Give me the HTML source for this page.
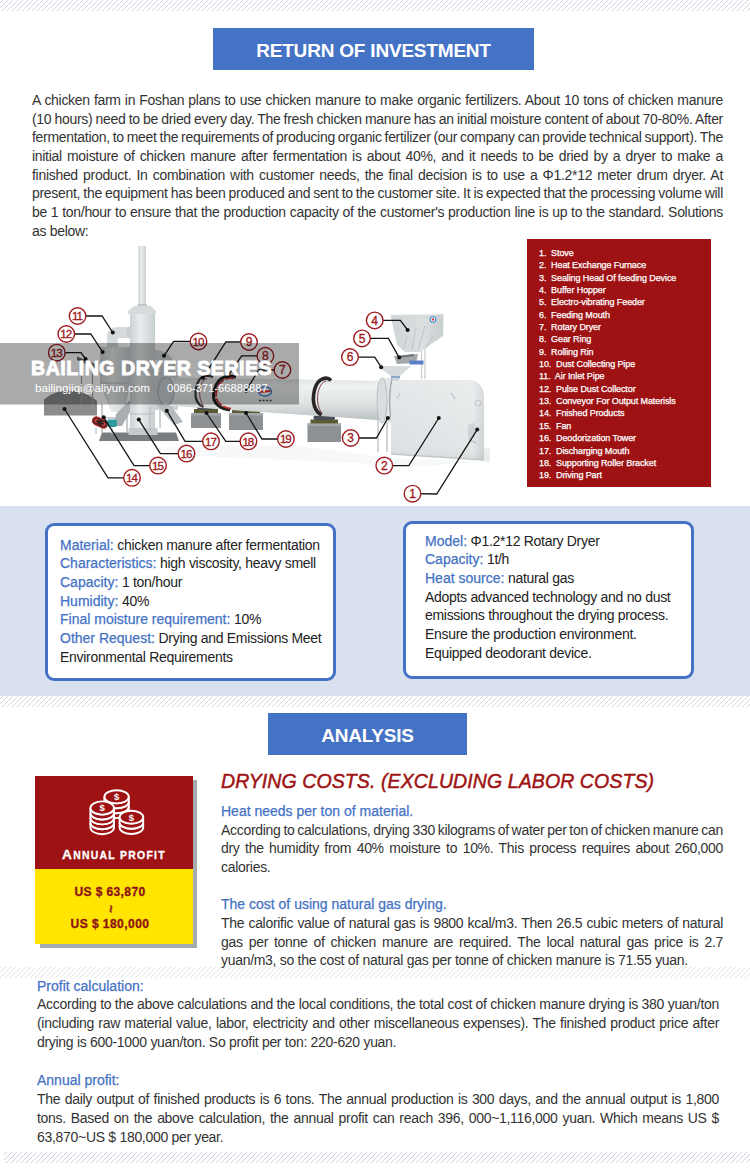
<!DOCTYPE html>
<html><head><meta charset="utf-8">
<style>
html,body{margin:0;padding:0;}
body{width:750px;height:1168px;overflow:hidden;position:relative;background:#fff;font-family:"Liberation Sans",sans-serif;color:#333;}
.abs{position:absolute;}
.hatch{position:absolute;left:0;width:750px;display:block;}
.title{position:absolute;background:#4472c4;color:#fff;font-weight:bold;font-size:19px;text-align:center;letter-spacing:-0.2px;}
.p{position:absolute;font-size:14px;line-height:18.67px;letter-spacing:-0.3px;}
.b{color:#4472c4;font-size:14px;line-height:10px;letter-spacing:0;-webkit-text-stroke:0.25px #4472c4;}
div.b{line-height:inherit;}
.box{position:absolute;background:#fff;border:3px solid #4472c4;border-radius:9px;box-sizing:border-box;font-size:14px;line-height:18.67px;letter-spacing:-0.3px;}
</style></head><body>
<svg class="hatch" style="top:0;height:11px" width="750" height="11"><defs><pattern id="h1" x="2" y="1" width="5" height="5" patternUnits="userSpaceOnUse"><path d="M-1 6 L6 -1" stroke="#d2d6e0" stroke-width="1"/></pattern></defs><rect width="750" height="11" fill="url(#h1)"/></svg>

<div class="title" style="left:213px;top:28px;width:321px;height:42px;line-height:45px;">RETURN OF INVESTMENT</div>

<div class="p" style="left:32px;top:91px;width:691px;">
<div style="white-space:nowrap;word-spacing:0.553px">A chicken farm in Foshan plans to use chicken manure to make organic fertilizers. About 10 tons of chicken manure</div>
<div style="white-space:nowrap;word-spacing:-0.387px">(10 hours) need to be dried every day. The fresh chicken manure has an initial moisture content of about 70-80%. After</div>
<div style="white-space:nowrap;word-spacing:-0.666px">fermentation, to meet the requirements of producing organic fertilizer (our company can provide technical support). The</div>
<div style="white-space:nowrap;word-spacing:1.575px">initial moisture of chicken manure after fermentation is about 40%, and it needs to be dried by a dryer to make a</div>
<div style="white-space:nowrap;word-spacing:1.606px">finished product. In combination with customer needs, the final decision is to use a Φ1.2*12 meter drum dryer. At</div>
<div style="white-space:nowrap;word-spacing:-0.476px">present, the equipment has been produced and sent to the customer site. It is expected that the processing volume will</div>
<div style="white-space:nowrap;word-spacing:0.299px">be 1 ton/hour to ensure that the production capacity of the customer's production line is up to the standard. Solutions</div>
<div>as below:</div>
</div>

<!-- DIAGRAM -->
<svg class="abs" style="left:0;top:240px" width="520" height="265" viewBox="0 240 520 265">
<defs>
<linearGradient id="drumG" x1="0" y1="0" x2="0" y2="1">
<stop offset="0" stop-color="#dce1e2"/><stop offset="0.2" stop-color="#eff2f3"/><stop offset="0.6" stop-color="#dfe3e4"/><stop offset="1" stop-color="#b9bfc1"/></linearGradient>
<linearGradient id="towerG" x1="0" y1="0" x2="1" y2="0">
<stop offset="0" stop-color="#ccd2d4"/><stop offset="0.4" stop-color="#e9eced"/><stop offset="1" stop-color="#c9cfd1"/></linearGradient>
<linearGradient id="houseG" x1="0" y1="0" x2="1" y2="0">
<stop offset="0" stop-color="#dde1e3"/><stop offset="0.88" stop-color="#e4e7e8"/><stop offset="1" stop-color="#cdd2d4"/></linearGradient>
<linearGradient id="houseV" x1="0" y1="0" x2="0" y2="1">
<stop offset="0" stop-color="#fff" stop-opacity="0.25"/><stop offset="0.8" stop-color="#fff" stop-opacity="0"/><stop offset="1" stop-color="#000" stop-opacity="0.06"/></linearGradient>
<linearGradient id="hopG" x1="0" y1="0" x2="1" y2="0">
<stop offset="0" stop-color="#cfd4d6"/><stop offset="0.6" stop-color="#dadfe0"/><stop offset="1" stop-color="#c8cdcf"/></linearGradient>
</defs>
<path d="M483 447 L490 449 L490 463 L483 461 Z" fill="#eceeee"/>
<path d="M95 441 Q150 452 200 445 L300 446 L390 458 L480 462 L420 466 L200 456 Z" fill="#f7f8f8"/>
<path d="M44 415.5 L44 399.5 C52 393 60 390.5 68 390.5 C78 390.5 89 394 97 401 L97 415.5 Z" fill="#8b8c8d"/>
<path d="M77 356.5 L97 365 L97 369 L77 360 Z" fill="#5f6264"/>
<path d="M81.5 360 L81.5 406 M92.5 365 L92.5 406" stroke="#9ea2a4" stroke-width="1.2"/>
<path d="M102 432.5 L176 432.5 L179 441 L99 441 Z" fill="#797d7f"/>
<path d="M100 347 L130 347 L130 383 L125 412 L111 412 L100 383 Z" fill="url(#towerG)"/>
<path d="M100 383 L130 383" stroke="#b8bec0" stroke-width="1"/>
<path d="M102 404 L102 433 M127 404 L127 433 M102 418 L127 418" stroke="#b9bfc1" stroke-width="1.6"/>
<path d="M130 400 L116 414 L114 426 L122 426 L130 412 Z" fill="#a9afb1"/>
<path d="M107 348 L107 337 Q107 327 117 327 L130 327 L130 338 L119 338 Q118 338 118 340 L118 348 Z" fill="#d5dadc"/>
<ellipse cx="129" cy="332.5" rx="2.5" ry="6" fill="#c9cfd1"/>
<rect x="138.5" y="246" width="7.5" height="60" fill="url(#towerG)"/>
<rect x="137.5" y="304" width="9.5" height="2" fill="#c0c6c8"/>
<path d="M134 306 L151 306 L156 311 L156 314 L128 314 L128 311 Z" fill="#d5dadb"/>
<rect x="130" y="314" width="25" height="120" fill="url(#towerG)"/>
<path d="M130 414 L155 414" stroke="#b6bcbe" stroke-width="1"/>
<path d="M128.5 428 L157.5 428 L157.5 435 L128.5 435 Z" fill="#c4cacc"/>
<path d="M155 350 Q170 351 175 364 L175 372 L160 372 Q159 361 155 359 Z" fill="#cfd5d7"/>
<path d="M154 372 L178 372 L178 410 L154 410 Z" fill="#cdd3d5"/>
<path d="M156 404 L170 404 L183 422 L174 425 Z" fill="#b7bdbf"/>
<path d="M160 410 L160 428 M150 406 L150 432" stroke="#b9bfc1" stroke-width="1.4"/>
<g transform="rotate(25 100 422.5)"><rect x="92" y="418.5" width="16" height="8" rx="4" fill="#4a2424" stroke="#c03030" stroke-width="1"/><circle cx="96" cy="422.5" r="2" fill="#e04040"/><circle cx="104" cy="422.5" r="2" fill="#e04040"/><rect x="96" y="421.5" width="8" height="2" fill="#2a2020"/></g>
<rect x="107" y="419.5" width="10" height="7.5" rx="2" fill="#2f9a9e"/>
<path d="M96 428 L96 434 M112 427 L112 434" stroke="#c3c8ca" stroke-width="1.4"/>
<rect x="191" y="413" width="30" height="15" fill="#8d9193"/>
<rect x="191" y="413" width="30" height="2.5" fill="#a3a7a9"/>
<rect x="194" y="409" width="24" height="4" fill="#5b5a35"/>
<rect x="197" y="405" width="18" height="4.5" rx="2" fill="#4a4d55"/>
<rect x="229" y="413" width="34" height="17" fill="#8d9193"/>
<rect x="229" y="413" width="34" height="2.5" fill="#a3a7a9"/>
<rect x="232" y="409" width="28" height="4" fill="#5b5a35"/>
<rect x="235" y="405" width="22" height="4.5" rx="2" fill="#4a4d55"/>
<rect x="307.5" y="423.5" width="33.5" height="18.5" fill="#8d9193"/>
<rect x="307.5" y="423.5" width="33.5" height="2.5" fill="#a3a7a9"/>
<rect x="310.5" y="419.5" width="27.5" height="4" fill="#5b5a35"/>
<rect x="313.5" y="415.5" width="21.5" height="4.5" rx="2" fill="#4a4d55"/>
<rect x="240" y="406" width="14" height="5" rx="2" fill="#3e9a52"/>
<path d="M378 400 L378 452 M387 400 L387 452" stroke="#c6cbcd" stroke-width="1.6"/>
<path d="M376 403 L392 403" stroke="#8f9597" stroke-width="1.3"/>
<path d="M166 377.5 L392 381 L392 421 L166 405.5 Z" fill="url(#drumG)"/>
<ellipse cx="166" cy="391.5" rx="8" ry="14" fill="#cdd3d5" stroke="#a9afb1" stroke-width="1.2"/>
<ellipse cx="265" cy="391.5" rx="6.5" ry="4.5" fill="#fff" stroke="#3a7fc8" stroke-width="1.4"/><path d="M259.5 392 L270.5 391" stroke="#d33" stroke-width="1.8"/>
<path d="M259 400.5 h2 m1.5 0 h2 m1.5 0 h2 m1.5 0 h2" stroke="#444" stroke-width="1.5"/>
<path d="M213 377 C205 374 197 376 195.5 392 C195 400 198 405 203.5 407" stroke="#3a3636" stroke-width="2.2" fill="none"/>
<path d="M207 378.5 C199 380 197 398 203.5 405.5" stroke="#8e2a2a" stroke-width="0.8" fill="none"/>
<path d="M236 377 C226 374 215 378 213.5 395 C213 403 220 409 230 410" stroke="#1f1f1f" stroke-width="3" fill="none"/>
<path d="M234 378.5 C226 377 217 381 216 395 C216 402 222 407.5 231 408.5" stroke="#c42a2a" stroke-width="1.7" fill="none" stroke-dasharray="9 1.5"/>
<path d="M331 380.5 C328 377 318 376 314.5 390 C311 404 316 412 321.5 415" stroke="#2b2626" stroke-width="3.6" fill="none"/>
<path d="M326 381 C320 382 316 394 318 404 C319 409 321 412 322 413" stroke="#7a2a30" stroke-width="0.9" fill="none"/>
<path d="M382 378 L393 378 L393 423 L382 423 Z" fill="#e2e5e6"/>
<ellipse cx="382" cy="400.5" rx="5" ry="22.5" fill="#d9dddf" stroke="#b9bec0" stroke-width="1"/>
<path d="M392 379 Q387 401 392 423" stroke="#a3a9ab" stroke-width="1.4" fill="none"/>
<path d="M391 390 Q391 380 400 380 L468 380 Q484 381 484 398 L484 460 L391 454 Z" fill="url(#houseG)"/>
<path d="M391 390 Q391 380 400 380 L468 380 Q484 381 484 398 L484 460 L391 454 Z" fill="url(#houseV)"/>
<path d="M391 454 L484 460" stroke="#c3c8ca" stroke-width="1.6"/>
<path d="M397 399 L400 393 M451 393 L455 399" stroke="#c5cacc" stroke-width="1.4"/>
<path d="M468 425 L475 423 L475 438 L468 440 Z" fill="#cdd2d4"/><path d="M470 440 L476 443" stroke="#c0c5c7" stroke-width="1.5"/>
<circle cx="478" cy="403" r="3" fill="none" stroke="#b8bdbf" stroke-width="0.8"/>
<path d="M421.5 338 L421.5 379 M425 338 L425 379" stroke="#c8cdcf" stroke-width="1.2"/>
<path d="M390.5 315 L443.5 314 L443 336 L420 352 L405 352 L397 345 Z" fill="url(#hopG)"/>
<path d="M390.5 315 L443.5 314" stroke="#eef0f1" stroke-width="1"/>
<path d="M407 336 L403 350 M416 327 L412 350 M425 326 L418 350 M433 336 L426 348" stroke="#bcc2c4" stroke-width="0.9"/>
<circle cx="433" cy="319.5" r="2.8" fill="#fff" stroke="#3a8fd0" stroke-width="1.1"/><circle cx="433" cy="319.5" r="1.2" fill="#d33"/>
<path d="M394 356 L418 354 L416 363 L397 364 Z" fill="#a3a9ab"/>
<path d="M398 357 L414 355" stroke="#6b7173" stroke-width="2"/>
<rect x="409.5" y="360.5" width="14" height="4" fill="#5b80c6"/>
<path d="M377 366 L411 366 L400 376 L391 376 Z" fill="#d7dbdd"/>
<rect x="391" y="376" width="9" height="2.5" fill="#8fa6cc"/>
<rect x="392" y="378.5" width="7" height="2.5" fill="#cfd4d6"/>
<path d="M412.5 493.7 L436.7 494.0 L477.2 429.6" stroke="#151515" stroke-width="1.3" fill="none"/>
<circle cx="477.2" cy="429.6" r="2" fill="#111"/>
<path d="M384.3 465.6 L408.8 465.6 L438.8 418.0" stroke="#151515" stroke-width="1.3" fill="none"/>
<circle cx="438.8" cy="418.0" r="2" fill="#111"/>
<path d="M350.7 438.0 L376.4 438.0 L387.9 418.0" stroke="#151515" stroke-width="1.3" fill="none"/>
<circle cx="387.9" cy="418.0" r="2" fill="#111"/>
<path d="M374.7 320.4 L400.4 320.4 L407.6 330.0" stroke="#151515" stroke-width="1.3" fill="none"/>
<circle cx="407.6" cy="330.0" r="2" fill="#111"/>
<path d="M362.0 338.4 L388.4 338.4 L399.2 357.6" stroke="#151515" stroke-width="1.3" fill="none"/>
<circle cx="399.2" cy="357.6" r="2" fill="#111"/>
<path d="M350.0 357.1 L374.7 357.1 L381.2 367.2" stroke="#151515" stroke-width="1.3" fill="none"/>
<circle cx="381.2" cy="367.2" r="2" fill="#111"/>
<path d="M282.4 370.0 L258.6 370.0 L246.2 390.7" stroke="#151515" stroke-width="1.3" fill="none"/>
<circle cx="246.2" cy="390.7" r="2" fill="#111"/>
<path d="M265.4 355.8 L241.6 355.8 L228.0 376.0" stroke="#151515" stroke-width="1.3" fill="none"/>
<circle cx="228.0" cy="376.0" r="2" fill="#111"/>
<path d="M249.0 342.0 L225.8 342.0 L203.0 377.8" stroke="#151515" stroke-width="1.3" fill="none"/>
<circle cx="203.0" cy="377.8" r="2" fill="#111"/>
<path d="M198.5 341.5 L173.6 341.5 L164.0 355.8" stroke="#151515" stroke-width="1.3" fill="none"/>
<circle cx="164.0" cy="355.8" r="2" fill="#111"/>
<path d="M77.6 316.0 L102.0 316.0 L112.8 332.5" stroke="#151515" stroke-width="1.3" fill="none"/>
<circle cx="112.8" cy="332.5" r="2" fill="#111"/>
<path d="M66.3 334.0 L90.8 334.0 L102.6 352.0" stroke="#151515" stroke-width="1.3" fill="none"/>
<circle cx="102.6" cy="352.0" r="2" fill="#111"/>
<path d="M56.8 352.7 L81.0 352.7 L85.6 359.0" stroke="#151515" stroke-width="1.3" fill="none"/>
<circle cx="85.6" cy="359.0" r="2" fill="#111"/>
<path d="M132.0 477.8 L108.0 477.8 L64.5 409.0" stroke="#151515" stroke-width="1.3" fill="none"/>
<circle cx="64.5" cy="409.0" r="2" fill="#111"/>
<path d="M158.0 465.6 L134.0 465.6 L103.7 417.3" stroke="#151515" stroke-width="1.3" fill="none"/>
<circle cx="103.7" cy="417.3" r="2" fill="#111"/>
<path d="M186.5 453.6 L160.4 453.6 L138.8 419.6" stroke="#151515" stroke-width="1.3" fill="none"/>
<circle cx="138.8" cy="419.6" r="2" fill="#111"/>
<path d="M211.0 441.3 L185.0 441.3 L166.8 410.7" stroke="#151515" stroke-width="1.3" fill="none"/>
<circle cx="166.8" cy="410.7" r="2" fill="#111"/>
<path d="M248.4 441.3 L225.8 441.3 L206.5 413.0" stroke="#151515" stroke-width="1.3" fill="none"/>
<circle cx="206.5" cy="413.0" r="2" fill="#111"/>
<path d="M285.9 439.0 L262.0 439.0 L246.0 413.0" stroke="#151515" stroke-width="1.3" fill="none"/>
<circle cx="246.0" cy="413.0" r="2" fill="#111"/>
<circle cx="412.5" cy="493.7" r="8.3" fill="#fff" stroke="#a01c20" stroke-width="1.4"/>
<text x="412.5" y="497.9" font-size="12" text-anchor="middle" fill="#a01c20" stroke="#a01c20" stroke-width="0.35" font-family="Liberation Sans" letter-spacing="0">1</text>
<circle cx="384.3" cy="465.6" r="8.3" fill="#fff" stroke="#a01c20" stroke-width="1.4"/>
<text x="384.3" y="469.8" font-size="12" text-anchor="middle" fill="#a01c20" stroke="#a01c20" stroke-width="0.35" font-family="Liberation Sans" letter-spacing="0">2</text>
<circle cx="350.7" cy="438.0" r="8.3" fill="#fff" stroke="#a01c20" stroke-width="1.4"/>
<text x="350.7" y="442.2" font-size="12" text-anchor="middle" fill="#a01c20" stroke="#a01c20" stroke-width="0.35" font-family="Liberation Sans" letter-spacing="0">3</text>
<circle cx="374.7" cy="320.4" r="8.3" fill="#fff" stroke="#a01c20" stroke-width="1.4"/>
<text x="374.7" y="324.6" font-size="12" text-anchor="middle" fill="#a01c20" stroke="#a01c20" stroke-width="0.35" font-family="Liberation Sans" letter-spacing="0">4</text>
<circle cx="362.0" cy="338.4" r="8.3" fill="#fff" stroke="#a01c20" stroke-width="1.4"/>
<text x="362.0" y="342.6" font-size="12" text-anchor="middle" fill="#a01c20" stroke="#a01c20" stroke-width="0.35" font-family="Liberation Sans" letter-spacing="0">5</text>
<circle cx="350.0" cy="357.1" r="8.3" fill="#fff" stroke="#a01c20" stroke-width="1.4"/>
<text x="350.0" y="361.3" font-size="12" text-anchor="middle" fill="#a01c20" stroke="#a01c20" stroke-width="0.35" font-family="Liberation Sans" letter-spacing="0">6</text>
<circle cx="282.4" cy="370.0" r="8.3" fill="#fff" stroke="#a01c20" stroke-width="1.4"/>
<text x="282.4" y="374.2" font-size="12" text-anchor="middle" fill="#a01c20" stroke="#a01c20" stroke-width="0.35" font-family="Liberation Sans" letter-spacing="0">7</text>
<circle cx="265.4" cy="355.8" r="8.3" fill="#fff" stroke="#a01c20" stroke-width="1.4"/>
<text x="265.4" y="360.0" font-size="12" text-anchor="middle" fill="#a01c20" stroke="#a01c20" stroke-width="0.35" font-family="Liberation Sans" letter-spacing="0">8</text>
<circle cx="249.0" cy="342.0" r="8.3" fill="#fff" stroke="#a01c20" stroke-width="1.4"/>
<text x="249.0" y="346.2" font-size="12" text-anchor="middle" fill="#a01c20" stroke="#a01c20" stroke-width="0.35" font-family="Liberation Sans" letter-spacing="0">9</text>
<circle cx="198.5" cy="341.5" r="8.3" fill="#fff" stroke="#a01c20" stroke-width="1.4"/>
<text x="197.9" y="345.7" font-size="11.6" text-anchor="middle" fill="#a01c20" stroke="#a01c20" stroke-width="0.35" font-family="Liberation Sans" letter-spacing="-1.1">10</text>
<circle cx="77.6" cy="316.0" r="8.3" fill="#fff" stroke="#a01c20" stroke-width="1.4"/>
<text x="77.0" y="320.2" font-size="11.6" text-anchor="middle" fill="#a01c20" stroke="#a01c20" stroke-width="0.35" font-family="Liberation Sans" letter-spacing="-1.1">11</text>
<circle cx="66.3" cy="334.0" r="8.3" fill="#fff" stroke="#a01c20" stroke-width="1.4"/>
<text x="65.7" y="338.2" font-size="11.6" text-anchor="middle" fill="#a01c20" stroke="#a01c20" stroke-width="0.35" font-family="Liberation Sans" letter-spacing="-1.1">12</text>
<circle cx="56.8" cy="352.7" r="8.3" fill="#fff" stroke="#a01c20" stroke-width="1.4"/>
<text x="56.2" y="356.9" font-size="11.6" text-anchor="middle" fill="#a01c20" stroke="#a01c20" stroke-width="0.35" font-family="Liberation Sans" letter-spacing="-1.1">13</text>
<circle cx="132.0" cy="477.8" r="8.3" fill="#fff" stroke="#a01c20" stroke-width="1.4"/>
<text x="131.4" y="482.0" font-size="11.6" text-anchor="middle" fill="#a01c20" stroke="#a01c20" stroke-width="0.35" font-family="Liberation Sans" letter-spacing="-1.1">14</text>
<circle cx="158.0" cy="465.6" r="8.3" fill="#fff" stroke="#a01c20" stroke-width="1.4"/>
<text x="157.4" y="469.8" font-size="11.6" text-anchor="middle" fill="#a01c20" stroke="#a01c20" stroke-width="0.35" font-family="Liberation Sans" letter-spacing="-1.1">15</text>
<circle cx="186.5" cy="453.6" r="8.3" fill="#fff" stroke="#a01c20" stroke-width="1.4"/>
<text x="185.9" y="457.8" font-size="11.6" text-anchor="middle" fill="#a01c20" stroke="#a01c20" stroke-width="0.35" font-family="Liberation Sans" letter-spacing="-1.1">16</text>
<circle cx="211.0" cy="441.3" r="8.3" fill="#fff" stroke="#a01c20" stroke-width="1.4"/>
<text x="210.4" y="445.5" font-size="11.6" text-anchor="middle" fill="#a01c20" stroke="#a01c20" stroke-width="0.35" font-family="Liberation Sans" letter-spacing="-1.1">17</text>
<circle cx="248.4" cy="441.3" r="8.3" fill="#fff" stroke="#a01c20" stroke-width="1.4"/>
<text x="247.8" y="445.5" font-size="11.6" text-anchor="middle" fill="#a01c20" stroke="#a01c20" stroke-width="0.35" font-family="Liberation Sans" letter-spacing="-1.1">18</text>
<circle cx="285.9" cy="439.0" r="8.3" fill="#fff" stroke="#a01c20" stroke-width="1.4"/>
<text x="285.3" y="443.2" font-size="11.6" text-anchor="middle" fill="#a01c20" stroke="#a01c20" stroke-width="0.35" font-family="Liberation Sans" letter-spacing="-1.1">19</text>
<rect x="0" y="343" width="299" height="61.5" fill="#000" fill-opacity="0.335"/>
<text x="31" y="374.8" font-size="19.6" font-weight="bold" fill="#fff" stroke="#fff" stroke-width="0.9" font-family="Liberation Sans" letter-spacing="0.5">BAILING DRYER SERIES</text>
<text x="35" y="391.5" font-size="11.6" fill="#fff" font-family="Liberation Sans">bailingjiqi@aliyun.com</text>
<text x="167" y="391.5" font-size="11.2" fill="#fff" font-family="Liberation Sans">0086-371-66888887</text>
</svg>

<div class="abs" style="left:527px;top:239px;width:184px;height:248px;background:#9e1213;color:#fff;font-size:9px;line-height:12.35px;">
<div style="position:absolute;left:12px;top:8px;letter-spacing:-0.1px;-webkit-text-stroke:0.25px #fff;">
1.&nbsp; Stove<br>2.&nbsp; Heat Exchange Furnace<br>3.&nbsp; Sealing Head Of feeding Device<br>4.&nbsp; Buffer Hopper<br>5.&nbsp; Electro-vibrating Feeder<br>6.&nbsp; Feeding Mouth<br>7.&nbsp; Rotary Dryer<br>8.&nbsp; Gear Ring<br>9.&nbsp; Rolling Rin<br>10.&nbsp; Dust Collecting Pipe<br>11.&nbsp; Air Inlet Pipe<br>12.&nbsp; Pulse Dust Collector<br>13.&nbsp; Conveyor For Output Materisls<br>14.&nbsp; Fnished Products<br>15.&nbsp; Fan<br>16.&nbsp; Deodorization Tower<br>17.&nbsp; Discharging Mouth<br>18.&nbsp; Supporting Roller Bracket<br>19.&nbsp; Driving Part
</div></div>

<div class="abs" style="left:0;top:506px;width:750px;height:190px;background:#d9e1f0;"></div>
<svg class="hatch" style="top:696px;height:11px" width="750" height="11"><defs><pattern id="h2" x="3" width="5" height="5" patternUnits="userSpaceOnUse"><path d="M-1 6 L6 -1" stroke="#d6d9e2" stroke-width="1"/></pattern></defs><rect width="750" height="11" fill="url(#h2)"/></svg>

<div class="box" style="left:45px;top:523px;width:291px;height:158px;padding:9.5px 0 0 12px;color:#222;">
<span class="b">Material:</span> chicken manure after fermentation<br>
<span class="b">Characteristics:</span> high viscosity, heavy smell<br>
<span class="b">Capacity:</span> 1 ton/hour<br>
<span class="b">Humidity:</span> 40%<br>
<span class="b">Final moisture requirement:</span> 10%<br>
<span class="b">Other Request:</span> Drying and Emissions Meet<br>Environmental Requirements
</div>
<div class="box" style="left:403px;top:521px;width:291px;height:158px;padding:7.5px 0 0 19px;color:#222;">
<span class="b">Model:</span> Φ1.2*12 Rotary Dryer<br>
<span class="b">Capacity:</span> 1t/h<br>
<span class="b">Heat source:</span> natural gas<br>
Adopts advanced technology and no dust<br>emissions throughout the drying process.<br>Ensure the production environment.<br>Equipped deodorant device.
</div>

<div class="title" style="left:268px;top:713px;width:199px;height:42px;line-height:45px;letter-spacing:-0.2px;">ANALYSIS</div>

<!-- annual profit -->
<div class="abs" style="left:40px;top:780px;width:157px;height:168px;background:#a3acae;"></div>
<div class="abs" style="left:35px;top:776px;width:158px;height:93px;background:#9e1213;"></div>
<div class="abs" style="left:35px;top:869px;width:158px;height:75px;background:#ffe500;"></div>
<svg class="abs" style="left:35px;top:776px" width="158" height="93" viewBox="35 776 158 93">
<path d="M104.40 806.60 L104.40 811.50 A12.2 6.6 0 0 0 128.80 811.50 L128.80 806.60 A12.2 6.6 0 0 1 104.40 806.60 Z" fill="#9e1213" stroke="#fff" stroke-width="1.9"/>
<path d="M104.40 801.70 L104.40 806.60 A12.2 6.6 0 0 0 128.80 806.60 L128.80 801.70 A12.2 6.6 0 0 1 104.40 801.70 Z" fill="#9e1213" stroke="#fff" stroke-width="1.9"/>
<path d="M104.40 796.80 L104.40 801.70 A12.2 6.6 0 0 0 128.80 801.70 L128.80 796.80 A12.2 6.6 0 0 1 104.40 796.80 Z" fill="#9e1213" stroke="#fff" stroke-width="1.9"/>
<ellipse cx="116.6" cy="796.8" rx="12.2" ry="6.6" fill="#9e1213" stroke="#fff" stroke-width="1.9"/>
<text x="116.6" y="800.0999999999999" font-size="9.5" font-weight="bold" text-anchor="middle" fill="#fff" font-family="Liberation Sans">$</text>
<path d="M90.40 822.70 L90.40 827.60 A11.8 6.6 0 0 0 114.00 827.60 L114.00 822.70 A11.8 6.6 0 0 1 90.40 822.70 Z" fill="#9e1213" stroke="#fff" stroke-width="1.9"/>
<path d="M90.40 817.80 L90.40 822.70 A11.8 6.6 0 0 0 114.00 822.70 L114.00 817.80 A11.8 6.6 0 0 1 90.40 817.80 Z" fill="#9e1213" stroke="#fff" stroke-width="1.9"/>
<path d="M90.40 812.90 L90.40 817.80 A11.8 6.6 0 0 0 114.00 817.80 L114.00 812.90 A11.8 6.6 0 0 1 90.40 812.90 Z" fill="#9e1213" stroke="#fff" stroke-width="1.9"/>
<path d="M90.40 808.00 L90.40 812.90 A11.8 6.6 0 0 0 114.00 812.90 L114.00 808.00 A11.8 6.6 0 0 1 90.40 808.00 Z" fill="#9e1213" stroke="#fff" stroke-width="1.9"/>
<ellipse cx="102.2" cy="808" rx="11.8" ry="6.6" fill="#9e1213" stroke="#fff" stroke-width="1.9"/>
<text x="102.2" y="811.3" font-size="9.5" font-weight="bold" text-anchor="middle" fill="#fff" font-family="Liberation Sans">$</text>
<path d="M119.60 822.40 L119.60 827.60 A11.8 6.4 0 0 0 143.20 827.60 L143.20 822.40 A11.8 6.4 0 0 1 119.60 822.40 Z" fill="#9e1213" stroke="#fff" stroke-width="1.9"/>
<path d="M119.60 817.20 L119.60 822.40 A11.8 6.4 0 0 0 143.20 822.40 L143.20 817.20 A11.8 6.4 0 0 1 119.60 817.20 Z" fill="#9e1213" stroke="#fff" stroke-width="1.9"/>
<ellipse cx="131.4" cy="817.2" rx="11.8" ry="6.4" fill="#9e1213" stroke="#fff" stroke-width="1.9"/>
<text x="131.4" y="820.5" font-size="9.5" font-weight="bold" text-anchor="middle" fill="#fff" font-family="Liberation Sans">$</text>
</svg>
<div class="abs" style="left:35px;top:844px;width:158px;text-align:center;color:#fff;font-weight:bold;line-height:19px;-webkit-text-stroke:0.3px #fff;"><span style="font-size:13.6px;letter-spacing:1.2px">A</span><span style="font-size:10.4px;letter-spacing:1.3px">NNUAL PROFIT</span></div>
<div class="abs" style="left:31px;top:884px;width:158px;text-align:center;color:#8e1516;font-weight:bold;font-size:12px;line-height:16.2px;-webkit-text-stroke:0.35px #8e1516;"><span style="letter-spacing:0.4px">US $ 63,870</span><br><span style="display:inline-block;transform:rotate(90deg) translateX(1px);font-size:13px;line-height:10px">~</span><br><span style="letter-spacing:0.45px">US $ 180,000</span></div>
<div class="abs" style="left:221px;top:767px;font-size:19.5px;font-style:italic;color:#9e1213;line-height:28px;letter-spacing:0.1px;-webkit-text-stroke:0.45px #9e1213;">DRYING COSTS. (EXCLUDING LABOR COSTS)</div>

<div class="p" style="left:221px;top:802px;width:502px;">
<div class="b">Heat needs per ton of material.</div>
<div style="white-space:nowrap;word-spacing:-0.764px">According to calculations, drying 330 kilograms of water per ton of chicken manure can</div>
<div style="white-space:nowrap;word-spacing:1.913px">dry the humidity from 40% moisture to 10%. This process requires about 260,000</div>
<div>calories.</div>
<div>&nbsp;</div>
<div class="b">The cost of using natural gas drying.</div>
<div style="white-space:nowrap;word-spacing:0.622px">The calorific value of natural gas is 9800 kcal/m3. Then 26.5 cubic meters of natural</div>
<div style="white-space:nowrap;word-spacing:2.403px">gas per tonne of chicken manure are required. The local natural gas price is 2.7</div>
<div>yuan/m3, so the cost of natural gas per tonne of chicken manure is 71.55 yuan.</div>
</div>

<svg class="hatch" style="top:967px;height:11px" width="750" height="11"><defs><pattern id="h3" x="1" width="5" height="5" patternUnits="userSpaceOnUse"><path d="M-1 6 L6 -1" stroke="#e2e4ea" stroke-width="1"/></pattern></defs><rect width="750" height="11" fill="url(#h3)"/></svg>

<div class="p" style="left:37px;top:976.5px;width:682px;line-height:18.87px;">
<div class="b">Profit calculation:</div>
<div style="white-space:nowrap;word-spacing:0.018px">According to the above calculations and the local conditions, the total cost of chicken manure drying is 380 yuan/ton</div>
<div style="white-space:nowrap;word-spacing:0.769px">(including raw material value, labor, electricity and other miscellaneous expenses). The finished product price after</div>
<div>drying is 600-1000 yuan/ton. So profit per ton: 220-620 yuan.</div>
<div>&nbsp;</div>
<div class="b">Annual profit:</div>
<div style="white-space:nowrap;word-spacing:0.877px">The daily output of finished products is 6 tons. The annual production is 300 days, and the annual output is 1,800</div>
<div style="white-space:nowrap;word-spacing:1.298px">tons. Based on the above calculation, the annual profit can reach 396, 000~1,116,000 yuan. Which means US $</div>
<div>63,870~US $ 180,000 per year.</div>
</div>

<svg class="hatch" style="top:1152px;height:11px" width="750" height="11"><defs><pattern id="h4" x="2" width="5" height="5" patternUnits="userSpaceOnUse"><path d="M-1 6 L6 -1" stroke="#cdd1dd" stroke-width="1"/></pattern></defs><rect x="4" width="746" height="11" fill="url(#h4)"/></svg>
</body></html>
